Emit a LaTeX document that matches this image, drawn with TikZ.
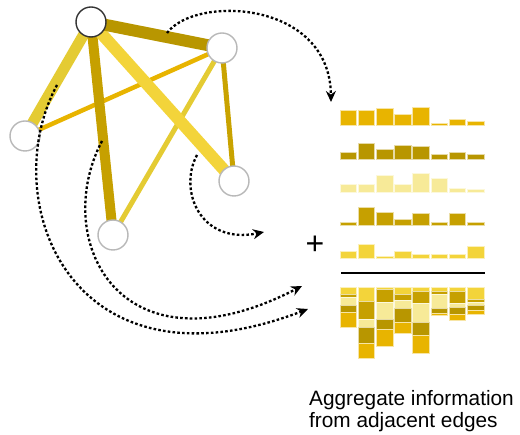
\documentclass[tikz,border=0pt]{standalone}
\usepackage{fontspec}
\setmainfont{Liberation Sans}
\usetikzlibrary{arrows.meta,positioning,backgrounds}

\definecolor{goldA}{HTML}{E8B400}
\definecolor{goldB}{HTML}{B89600}
\definecolor{paleC}{HTML}{F7EA98}
\definecolor{goldD}{HTML}{C6A000}
\definecolor{yellowE}{HTML}{F3D43A}
\definecolor{lemon}{HTML}{E4CB33}
\definecolor{ochre}{HTML}{C9A300}

\tikzset{
  vertex/.style={circle,draw=black!28,line width=1.4pt,fill=white,minimum size=30pt,inner sep=0pt},
  flow/.style={dash pattern=on 2.6pt off 2.2pt,line width=2.3pt,-{Stealth[length=11pt,width=10pt]}},
  bar/.style={fill=#1,draw=#1!35!white,line width=0.7pt}
}

% bar heights, one row per edge
\def\hOne{{15,15,17,11,18,2,6,4}}
\def\hTwo{{7,16,10,14,13,5,7,5}}
\def\hThree{{8,8,17,8,19,14,4,3}}
\def\hFour{{3,18,13,6,12,3,12,3}}
\def\hFive{{7,14,2,7,4,4,4,12}}

\begin{document}
\begin{tikzpicture}[x=1pt,y=-1pt]
        \useasboundingbox (0,0) rectangle (520,435);
        \node[vertex,draw=black!80] (top) at (91,22) {};
        \node[vertex] (right) at (222,48) {};
        \node[vertex] (left) at (25,136) {};
        \node[vertex] (low) at (234,181) {};
        \node[vertex] (bottom) at (113,235) {};
        % edges, thin first
        \begin{scope}[on background layer]
        \draw[goldA,line width=4.5pt] (right.center) -- (left.center);
        \draw[lemon,line width=5pt] (right.center) -- (bottom.center);
        \draw[ochre,line width=5pt] (right.center) -- (low.center);
        \draw[lemon,line width=11pt] (top.center) -- (left.center);
        \draw[goldD,line width=10pt] (top.center) -- (bottom.center);
        \draw[yellowE,line width=12pt] (top.center) -- (low.center);
        \draw[goldB,line width=12pt] (top.center) -- (right.center);
        \end{scope}

        % bars of each edge and their stack
        \foreach \i in {0,...,7} {
          \pgfmathsetmacro\xa{340+18.2*\i}
          \pgfmathsetmacro\xb{\xa+16.5}
          \pgfmathsetmacro\ha{\hOne[\i]}
          \pgfmathsetmacro\hb{\hTwo[\i]}
          \pgfmathsetmacro\hc{\hThree[\i]}
          \pgfmathsetmacro\hd{\hFour[\i]}
          \pgfmathsetmacro\he{\hFive[\i]}
          \draw[bar=goldA] (\xa,125) rectangle (\xb,125-\ha);
          \draw[bar=goldB] (\xa,159) rectangle (\xb,159-\hb);
          \draw[bar=paleC] (\xa,192) rectangle (\xb,192-\hc);
          \draw[bar=goldD] (\xa,225) rectangle (\xb,225-\hd);
          \draw[bar=yellowE] (\xa,258) rectangle (\xb,258-\he);
          \pgfmathsetmacro\ya{287+\he}
          \pgfmathsetmacro\yb{\ya+\hd}
          \pgfmathsetmacro\yc{\yb+\hc}
          \pgfmathsetmacro\yd{\yc+\hb}
          \pgfmathsetmacro\ye{\yd+\ha}
          \draw[bar=yellowE] (\xa,287) rectangle (\xb,\ya);
          \draw[bar=goldD] (\xa,\ya) rectangle (\xb,\yb);
          \draw[bar=paleC] (\xa,\yb) rectangle (\xb,\yc);
          \draw[bar=goldB] (\xa,\yc) rectangle (\xb,\yd);
          \draw[bar=goldA] (\xa,\yd) rectangle (\xb,\ye);
        }
        \coordinate (sumleft) at (341,273);
        \coordinate (sumright) at (485,273);
        \draw[line width=1.2pt] (sumleft) -- (sumright);
        \node[font=\fontsize{32}{32}\selectfont,inner sep=0pt] (plus) at (315,245) {+};

        % dotted flows
        \coordinate (fromAB) at (167,33);
        \coordinate (toA) at (331,102);
        \coordinate (fromAD) at (197,155);
        \coordinate (toD) at (264,232);
        \coordinate (fromAE) at (102,141);
        \coordinate (toE) at (302,286);
        \coordinate (fromAC) at (57,85);
        \coordinate (toC) at (308,309);
        \draw[flow] (fromAB) .. controls (195,-5) and (330,0) .. (toA);
        \draw[flow] (fromAD) .. controls (178,190) and (200,245) .. (toD);
        \draw[flow] (fromAE) .. controls (50,240) and (120,380) .. (toE);
        \draw[flow] (fromAC) .. controls (-5,200) and (70,400) .. (toC);

        \node[font=\fontsize{20.8}{22.5}\selectfont,align=left,anchor=north west,inner sep=0pt] (caption) at (309,390)
          {Aggregate information\\from adjacent edges};
      \end{tikzpicture}
\end{document}
